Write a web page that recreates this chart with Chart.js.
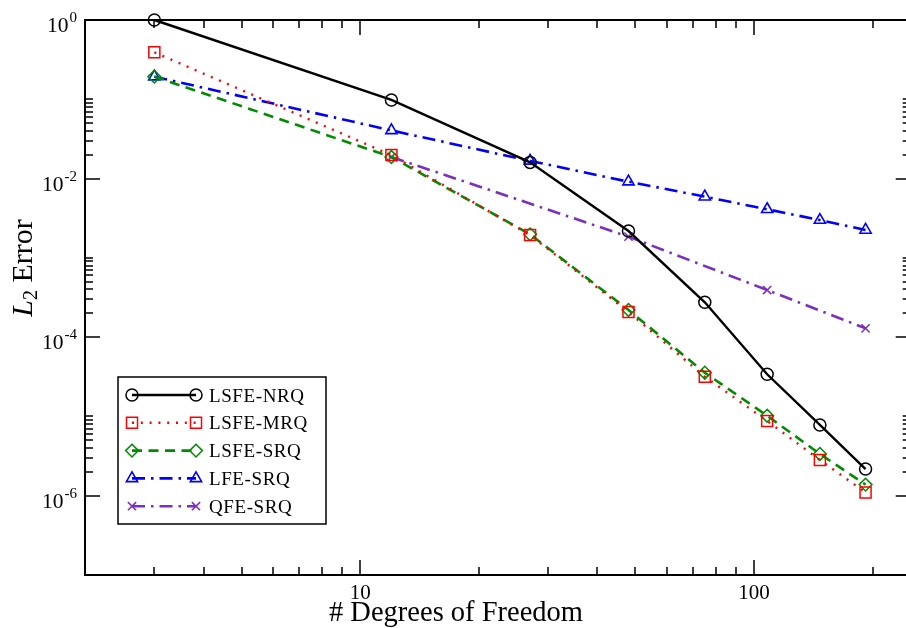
<!DOCTYPE html>
<html>
<head>
<meta charset="utf-8">
<script src="https://cdn.jsdelivr.net/npm/chart.js@4.4.0/dist/chart.umd.min.js"></script>
<style>
html, body { margin: 0; padding: 0; background: #fff; overflow: hidden; }
#wrap { width: 920px; height: 628px; }
</style>
</head>
<body>
<div id="wrap"><canvas id="errChart" width="920" height="628"></canvas></div>
<script>
// degrees of freedom (3 n^2) and L2 errors
const dofs = [3, 12, 27, 48, 75, 108, 147, 192];
const dofsQuad = [12, 48, 108, 192];
const lsfeNrq = [1.0, 0.098, 0.0160, 2.18e-3, 2.75e-4, 3.40e-5, 7.8e-6, 2.17e-6];
const lsfeMrq = [0.392, 0.0198, 1.94e-3, 2.08e-4, 3.17e-5, 8.77e-6, 2.82e-6, 1.10e-6];
const lsfeSrq = [0.193, 0.0187, 1.98e-3, 2.20e-4, 3.56e-5, 1.02e-5, 3.36e-6, 1.38e-6];
const lfeSrq = [0.193, 0.0405, 0.0167, 9.14e-3, 5.91e-3, 4.10e-3, 3.00e-3, 2.25e-3];
const qfeSrq = [0.0187, 1.85e-3, 3.93e-4, 1.29e-4];
const seriesNames = ['LSFE-NRQ', 'LSFE-MRQ', 'LSFE-SRQ', 'LFE-SRQ', 'QFE-SRQ'];

// axis ticks
const xMajorTicks = [10, 100];
const xTickLabels = ['10', '100'];
const xMinorTicks = [3, 4, 5, 6, 7, 8, 9, 20, 30, 40, 50, 60, 70, 80, 90, 200];
const yMajorTicks = [1, 1e-2, 1e-4, 1e-6];
const yTickExponents = ['0', '-2', '-4', '-6'];
const yMinorDecades = [1e-2, 1e-4, 1e-6];
const yMinorMultiples = [2, 3, 4, 5, 6, 7, 8, 9, 10];

const SERIF = '"Liberation Serif", "DejaVu Serif", serif';

function pts(xs, ys) {
    return xs.map((x, i) => ({ x: x, y: ys[i] }));
}

function drawMarker(ctx, ds, x, y) {
    ctx.save();
    ctx.setLineDash([]);
    ctx.strokeStyle = ds.borderColor;
    ctx.fillStyle = 'rgba(0,0,0,0)';
    ctx.lineWidth = ds.pointBorderWidth;
    Chart.helpers.drawPoint(ctx, {
        pointStyle: ds.pointStyle,
        radius: ds.pointRadius,
        borderWidth: ds.pointBorderWidth,
        rotation: 0
    }, x, y);
    ctx.restore();
}

const decorPlugin = {
    id: 'decor',
    afterDraw(chart) {
        const ctx = chart.ctx;
        const a = chart.chartArea;
        const xs = chart.scales.x;
        const ys = chart.scales.y;
        ctx.save();
        ctx.strokeStyle = '#000';
        ctx.fillStyle = '#000';

        // frame
        ctx.lineWidth = 2;
        ctx.strokeRect(a.left, a.top, a.right - a.left, a.bottom - a.top);

        // ticks, pointing inward, mirrored on all sides
        ctx.lineWidth = 1.5;
        function xTick(v, len) {
            const px = Math.round(xs.getPixelForValue(v));
            ctx.beginPath();
            ctx.moveTo(px, a.bottom); ctx.lineTo(px, a.bottom - len);
            ctx.moveTo(px, a.top); ctx.lineTo(px, a.top + len);
            ctx.stroke();
        }
        function yTick(v, len) {
            const py = Math.round(ys.getPixelForValue(v));
            ctx.beginPath();
            ctx.moveTo(a.left, py); ctx.lineTo(a.left + len, py);
            ctx.moveTo(a.right, py); ctx.lineTo(a.right - len, py);
            ctx.stroke();
        }
        xMajorTicks.forEach(v => xTick(v, 15));
        xMinorTicks.forEach(v => xTick(v, 8));
        yMajorTicks.forEach(v => yTick(v, 15));
        yMinorDecades.forEach(d => yMinorMultiples.forEach(m => yTick(d * m, 8)));

        // tick labels
        ctx.textBaseline = 'alphabetic';
        ctx.font = '21px ' + SERIF;
        ctx.textAlign = 'center';
        xMajorTicks.forEach((v, i) => {
            ctx.fillText(xTickLabels[i], xs.getPixelForValue(v), 599);
        });
        yMajorTicks.forEach((v, i) => {
            const py = ys.getPixelForValue(v);
            ctx.font = '15px ' + SERIF;
            const ew = ctx.measureText(yTickExponents[i]).width;
            ctx.textAlign = 'right';
            ctx.fillText(yTickExponents[i], 77, py + 2);
            ctx.font = '21.5px ' + SERIF;
            ctx.fillText('10', 77 - ew - 1, py + 12);
        });

        // axis titles
        ctx.font = '28.5px ' + SERIF;
        ctx.textAlign = 'center';
        ctx.fillText('# Degrees of Freedom', 456, 621);

        ctx.save();
        ctx.translate(32, 268);
        ctx.rotate(-Math.PI / 2);
        ctx.textAlign = 'left';
        ctx.font = 'italic 30px ' + SERIF;
        const wL = ctx.measureText('L').width;
        ctx.font = '20px ' + SERIF;
        const w2 = ctx.measureText('2').width;
        ctx.font = '30px ' + SERIF;
        const wE = ctx.measureText(' Error').width;
        let tx = -(wL + w2 + wE) / 2;
        ctx.font = 'italic 30px ' + SERIF;
        ctx.fillText('L', tx, 0);
        tx += wL;
        ctx.font = '20px ' + SERIF;
        ctx.fillText('2', tx, 5);
        tx += w2;
        ctx.font = '30px ' + SERIF;
        ctx.fillText(' Error', tx, 0);
        ctx.restore();

        // legend
        const lx0 = 118, ly0 = 377, lw = 208, lh = 147;
        ctx.fillStyle = '#fff';
        ctx.fillRect(lx0, ly0, lw, lh);
        ctx.lineWidth = 1.5;
        ctx.strokeStyle = '#000';
        ctx.strokeRect(lx0, ly0, lw, lh);
        chart.data.datasets.forEach((ds, i) => {
            const yy = 395 + i * 27.8;
            ctx.save();
            ctx.strokeStyle = ds.borderColor;
            ctx.lineWidth = ds.borderWidth;
            ctx.setLineDash(ds.borderDash || []);
            ctx.beginPath();
            ctx.moveTo(132, yy);
            ctx.lineTo(196, yy);
            ctx.stroke();
            ctx.restore();
            drawMarker(ctx, ds, 132, yy);
            drawMarker(ctx, ds, 196, yy);
            ctx.fillStyle = '#000';
            ctx.font = '19px ' + SERIF;
            ctx.letterSpacing = '0.6px';
            ctx.textAlign = 'left';
            ctx.fillText(ds.label, 209, yy + 6.5);
            ctx.letterSpacing = '0px';
        });
        ctx.restore();
    }
};

const ctx = document.getElementById('errChart').getContext('2d');
new Chart(ctx, {
    type: 'line',
    data: {
        datasets: [{
            label: seriesNames[0],
            data: pts(dofs, lsfeNrq),
            borderColor: '#000000',
            borderWidth: 2.4,
            borderDash: [],
            pointStyle: 'circle',
            pointRadius: 6,
            pointBorderWidth: 1.5
        }, {
            label: seriesNames[1],
            data: pts(dofs, lsfeMrq),
            borderColor: '#ff0000',
            borderWidth: 2.4,
            borderDash: [2, 6.8],
            pointStyle: 'rect',
            pointRadius: 7.8,
            pointBorderWidth: 1.5
        }, {
            label: seriesNames[2],
            data: pts(dofs, lsfeSrq),
            borderColor: '#008b00',
            borderWidth: 2.6,
            borderDash: [10, 6.5],
            pointStyle: 'rectRot',
            pointRadius: 6.4,
            pointBorderWidth: 1.5
        }, {
            label: seriesNames[3],
            data: pts(dofs, lfeSrq),
            borderColor: '#0000ff',
            borderWidth: 2.6,
            borderDash: [13, 6, 2.5, 6],
            pointStyle: 'triangle',
            pointRadius: 6.5,
            pointBorderWidth: 1.6
        }, {
            label: seriesNames[4],
            data: pts(dofsQuad, qfeSrq),
            borderColor: '#7a2fc0',
            borderWidth: 2.6,
            borderDash: [13, 6, 2.5, 6],
            pointStyle: 'crossRot',
            pointRadius: 5.8,
            pointBorderWidth: 1.5
        }].map(d => Object.assign(d, {
            fill: false,
            tension: 0,
            clip: false,
            pointBackgroundColor: 'rgba(0,0,0,0)',
            pointBorderColor: d.borderColor
        }))
    },
    options: {
        responsive: false,
        animation: false,
        devicePixelRatio: 1,
        layout: { padding: { left: 85, top: 20, right: 7, bottom: 53 } },
        scales: {
            x: { type: 'logarithmic', min: 2, max: 250, display: false },
            y: { type: 'logarithmic', min: 1e-7, max: 1, display: false }
        },
        plugins: {
            legend: { display: false },
            tooltip: { enabled: false }
        }
    },
    plugins: [decorPlugin]
});
</script>
</body>
</html>
